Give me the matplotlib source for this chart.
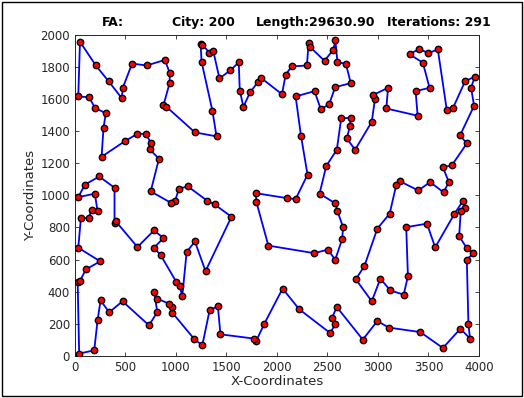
import matplotlib
matplotlib.use('Agg')
import matplotlib.pyplot as plt
from matplotlib.patches import Rectangle

# --- TOUR DATA (city coordinates in visiting order) ---
tour_x = [50, 207, 333, 464, 474, 566, 711, 891, 938, 938, 876, 905, 1188, 1402, 1362, 1254,
          1244, 1262, 1330, 1369, 1431, 1540, 1622, 1632, 1668, 1734, 1813, 1846, 2050, 2086,
          2145, 2297, 2313, 2327, 2471, 2557, 2579, 2599, 2682, 2731, 2577, 2517, 2435, 2372,
          2185, 2238, 2303, 2185, 2100, 1790, 1797, 1915, 2369, 2504, 2577, 2646, 2655, 2599,
          2579, 2422, 2488, 2593, 2636, 2731, 2722, 2692, 2774, 2939, 2971, 2949, 3100, 3083,
          3393, 3373, 3511, 3445, 3314, 3409, 3498, 3593, 3682, 3741, 3863, 3959, 3922, 3952,
          3813, 3880, 3731, 3643, 3702, 3650, 3517, 3399, 3215, 3182, 3116, 2994, 2866, 2781,
          2939, 3024, 3122, 3255, 3297, 3280, 3485, 3567, 3758, 3843, 3863, 3820, 3804, 3882,
          3946, 3880, 3896, 3912, 3817, 3643, 3419, 3107, 2994, 2850, 2593, 2544, 2577, 2527,
          2221, 2056, 1876, 1794, 1777, 1441, 1415, 1333, 1261, 1178, 964, 964, 931, 816,
          783, 816, 733, 471, 339, 254, 224, 191, 42, 27, 49, 109, 250, 33, 59, 135, 168, 224,
          197, 33, 99, 240, 392, 392, 405, 619, 783, 876, 783, 849, 1004, 1037, 1063, 1106,
          1188, 1293, 1550, 1382, 1310, 1118, 1030, 990, 948, 750, 832, 740, 750, 704, 619,
          494, 264, 283, 306, 200, 141, 33]
tour_y = [1958, 1810, 1712, 1606, 1671, 1822, 1810, 1845, 1764, 1702, 1561, 1553, 1393, 1368,
          1525, 1833, 1943, 1940, 1891, 1902, 1729, 1781, 1829, 1654, 1553, 1642, 1708, 1731,
          1631, 1752, 1804, 1810, 1949, 1926, 1839, 1908, 1966, 1829, 1822, 1700, 1675, 1569,
          1536, 1650, 1617, 1372, 1129, 977, 983, 1014, 958, 687, 640, 662, 599, 728, 802,
          902, 950, 1011, 1183, 1285, 1480, 1484, 1432, 1355, 1285, 1459, 1604, 1625, 1671,
          1542, 1497, 1650, 1671, 1827, 1880, 1914, 1887, 1910, 1531, 1542, 1712, 1740, 1671,
          1559, 1374, 1324, 1187, 1176, 1083, 1019, 1083, 1031, 1089, 1067, 886, 793, 560,
          477, 340, 481, 408, 381, 497, 802, 824, 676, 886, 967, 923, 902, 745, 670, 640, 599,
          196, 107, 169, 49, 148, 176, 217, 101, 304, 236, 196, 142, 290, 419, 201, 92, 107,
          134, 310, 283, 65, 107, 269, 304, 325, 356, 398, 273, 190, 340, 271, 346, 221, 34,
          14, 458, 466, 539, 589, 674, 857, 861, 911, 902, 1011, 989, 1067, 1118, 1048, 830,
          838, 678, 782, 734, 674, 628, 460, 435, 373, 647, 713, 528, 867, 944, 967, 1056,
          1042, 963, 955, 1025, 1229, 1287, 1328, 1384, 1384, 1338, 1241, 1422, 1513, 1544,
          1612, 1617]

n_city = 200
tour_length = 29630.90
iterations = 291

# close the tour
px = tour_x + tour_x[:1]
py = tour_y + tour_y[:1]

fig = plt.figure(figsize=(5.24, 3.98), dpi=100, facecolor='white')
ax = fig.add_axes([0.143, 0.106, 0.771, 0.806])

ax.plot(px, py, '-', color='#0000FF', lw=1.3, zorder=2)
ax.plot(tour_x, tour_y, 'o', ms=4.6, mfc='#FF0000', mec='black', mew=1.0, zorder=3)

ax.set_xlim(0, 4000)
ax.set_ylim(0, 2000)
ax.set_xticks(range(0, 4001, 500))
ax.set_yticks(range(0, 2001, 200))
ax.tick_params(direction='in', top=True, right=True, length=3, width=0.6,
               labelsize=8.5, colors='#262626')
for s in ax.spines.values():
    s.set_color('#262626')
    s.set_linewidth(0.7)

ax.set_xlabel('X-Coordinates', fontsize=9.5, color='#262626', labelpad=1)
ax.set_ylabel('Y-Coordinates', fontsize=9.5, color='#262626', labelpad=2)

# title pieces (MATLAB-style spaced title)
title_parts = ['FA:', f'City: {n_city}', f'Length:{tour_length:.2f}', f'Iterations: {iterations}']
title_pos = [0.094, 0.318, 0.597, 0.9]
for txt, xp in zip(title_parts, title_pos):
    ax.text(xp, 1.018, txt, transform=ax.transAxes, ha='center', va='bottom',
            fontsize=9, fontweight='bold', color='black')

# black frame around the figure
fig.patches.append(Rectangle((0.003, 0.004), 0.993, 0.99, transform=fig.transFigure,
                             fill=False, edgecolor='black', lw=1.0))

fig.savefig('out.png', dpi=100, facecolor='white')
